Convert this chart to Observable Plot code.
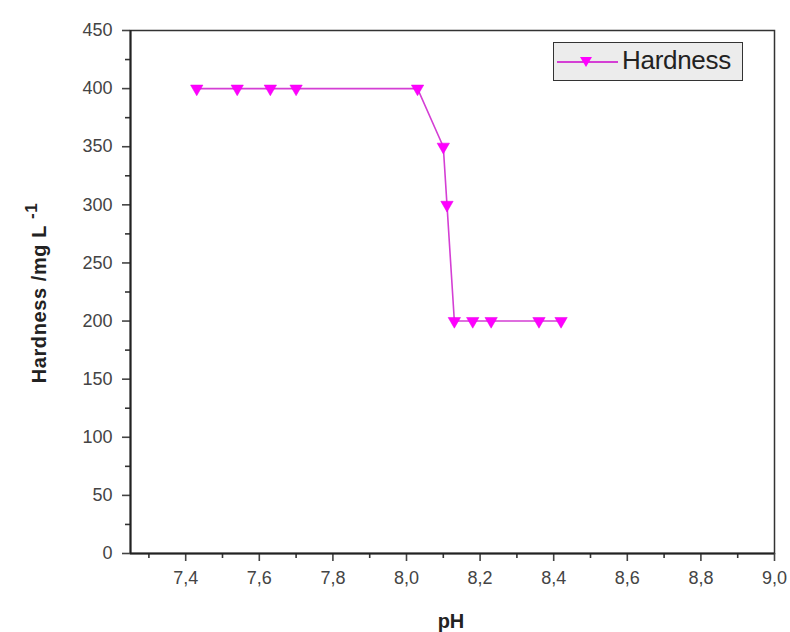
<!DOCTYPE html>
<html>
<head>
<meta charset="utf-8">
<script src="https://cdn.jsdelivr.net/npm/d3@7"></script>
<script src="https://cdn.jsdelivr.net/npm/@observablehq/plot@0.6"></script>
<style>
  html, body { margin: 0; padding: 0; background: #fff; }
  #wrap { position: relative; width: 790px; height: 632px; font-family: "Liberation Sans", Arial, sans-serif; }
  #legend { position: absolute; left: 553px; top: 42px; width: 188px; height: 37px; background: #ececec; border: 1.5px solid #333; box-sizing: content-box; }
  #legend svg { position: absolute; left: 0; top: 0; }
  #legend span { position: absolute; left: 68px; top: 2px; font-size: 26px; color: #222; letter-spacing: -0.3px; }
</style>
</head>
<body>
<div id="wrap"></div>
<script>
const ph = [7.43, 7.54, 7.63, 7.70, 8.03, 8.10, 8.11, 8.13, 8.18, 8.23, 8.36, 8.42];
const hardness = [400, 400, 400, 400, 400, 350, 300, 200, 200, 200, 200, 200];
const xTicks = [7.4, 7.6, 7.8, 8.0, 8.2, 8.4, 8.6, 8.8, 9.0];
const xMinor = [7.3, 7.5, 7.7, 7.9, 8.1, 8.3, 8.5, 8.7, 8.9];
const yTicks = [0, 50, 100, 150, 200, 250, 300, 350, 400, 450];
const yMinor = [25, 75, 125, 175, 225, 275, 325, 375, 425];
const seriesName = "Hardness";

const data = ph.map((x, i) => ({ph: x, hardness: hardness[i]}));
const fmt = d => d.toFixed(1).replace(".", ",");

const chart = Plot.plot({
  width: 790,
  height: 632,
  marginLeft: 130,
  marginRight: 16,
  marginTop: 30,
  marginBottom: 79,
  x: {domain: [7.25, 9.0]},
  y: {domain: [0, 450]},
  style: {fontFamily: "'Liberation Sans', Arial, sans-serif", fontSize: "18px", background: "#fff"},
  marks: [
    Plot.frame({stroke: "#333", strokeWidth: 1.5}),
    Plot.axisX({ticks: xTicks, tickFormat: fmt, tickSize: 8, tickPadding: 10, label: null, fontSize: 18, color: "#444", strokeWidth: 1.6}),
    Plot.axisX({ticks: xMinor, tickFormat: () => "", tickSize: 5, label: null, strokeWidth: 1.6, color: "#333"}),
    Plot.axisY({ticks: yTicks, tickSize: 8, tickPadding: 10, label: null, fontSize: 18, color: "#444", strokeWidth: 1.6}),
    Plot.axisY({ticks: yMinor, tickFormat: () => "", tickSize: 5, label: null, strokeWidth: 1.6, color: "#333"}),
    Plot.ruleY([0], {stroke: "#222", strokeWidth: 2}),
    Plot.ruleX([7.25], {stroke: "#222", strokeWidth: 2}),
    Plot.line(data, {x: "ph", y: "hardness", stroke: "#d43fd4", strokeWidth: 1.6}),
    Plot.dot(data, {x: "ph", y: "hardness", symbol: "triangle", rotate: 180, r: 4.6, fill: "#ff00ff", stroke: "#e600e6", strokeWidth: 0.5})
  ]
});

const svg = d3.select(chart);
svg.append("text")
  .attr("x", 451).attr("y", 628)
  .attr("text-anchor", "middle")
  .attr("font-size", 20).attr("font-weight", "bold").attr("fill", "#222")
  .text("pH");
const yl = svg.append("text")
  .attr("transform", "translate(46,293) rotate(-90)")
  .attr("text-anchor", "middle")
  .attr("font-size", 20).attr("font-weight", "bold").attr("fill", "#222")
  .attr("letter-spacing", 0.6);
yl.append("tspan").text("Hardness /mg L ");
yl.append("tspan").attr("dy", -9).attr("font-size", 17).text("-1");

document.getElementById("wrap").appendChild(chart);

const leg = document.createElement("div");
leg.id = "legend";
leg.innerHTML = '<svg width="70" height="37"><line x1="3" y1="19" x2="64" y2="19" stroke="#d43fd4" stroke-width="1.8"/><path d="M26,14 L38,14 L32,24 Z" fill="#ff00ff"/></svg><span>' + seriesName + '</span>';
document.getElementById("wrap").appendChild(leg);
</script>
</body>
</html>
